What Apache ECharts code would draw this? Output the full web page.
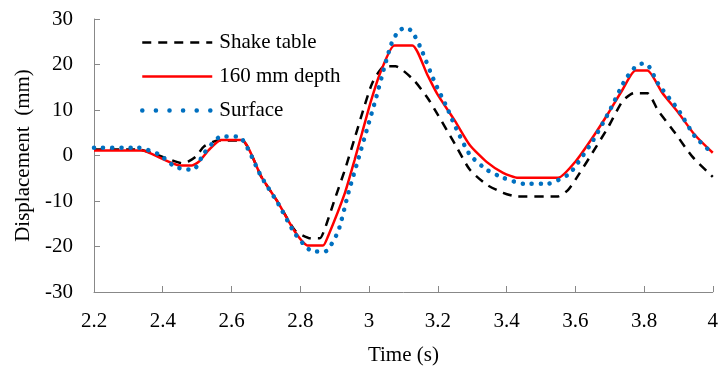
<!DOCTYPE html>
<html>
<head>
<meta charset="utf-8">
<script src="https://cdn.jsdelivr.net/npm/echarts@6/dist/echarts.min.js"></script>
<style>
html,body{margin:0;padding:0;background:#fff;}
#c{width:721px;height:372px;}
</style>
</head>
<body>
<div id="c"></div>
<script>
var seriesNames = ['Shake table', '160 mm depth', 'Surface'];

var tableTime = [2.20, 2.33, 2.40, 2.457, 2.475, 2.497, 2.52, 2.56, 2.63, 2.687, 2.736, 2.785, 2.83, 2.857, 2.872, 2.90, 2.93, 2.96, 2.98, 3.01, 3.045, 3.077, 3.13, 3.17, 3.20, 3.25, 3.293, 3.342, 3.39, 3.43, 3.55, 3.58, 3.61, 3.65, 3.697, 3.737, 3.77, 3.81, 3.84, 3.89, 3.94, 4.00];
var tableDisp = [1.3, 1.3, -0.3, -1.7, -1.3, -0.2, 2.0, 3.3, 3.3, -4.7, -10.4, -16.5, -18.2, -18.2, -16.0, -9.7, -3.1, 4.2, 9.2, 16.0, 19.6, 19.6, 16.6, 12.7, 9.0, 2.5, -3.1, -6.4, -8.2, -9.0, -9.0, -7.5, -4.2, 0.6, 6.4, 11.9, 13.7, 13.7, 10.0, 5.0, -0.2, -4.7];

var depthTime = [2.20, 2.34, 2.40, 2.45, 2.485, 2.506, 2.535, 2.57, 2.63, 2.687, 2.736, 2.785, 2.823, 2.866, 2.88, 2.93, 2.958, 2.98, 3.005, 3.034, 3.074, 3.126, 3.17, 3.198, 3.25, 3.293, 3.342, 3.39, 3.434, 3.55, 3.602, 3.65, 3.697, 3.737, 3.775, 3.81, 3.853, 3.90, 3.948, 4.00];
var depthDisp = [1.1, 1.1, -0.8, -2.2, -2.2, -1.3, 1.3, 3.4, 3.4, -4.7, -10.4, -16.8, -19.8, -19.8, -17.9, -8.2, -1.0, 5.0, 11.8, 18.4, 24.2, 24.2, 17.7, 13.6, 7.6, 2.3, -1.4, -3.8, -4.9, -4.9, -1.2, 3.9, 9.4, 14.4, 18.7, 18.7, 13.8, 9.4, 4.5, 0.6];

var surfaceTime = [2.20, 2.33, 2.39, 2.434, 2.47, 2.49, 2.52, 2.57, 2.62, 2.687, 2.736, 2.785, 2.837, 2.872, 2.91, 2.94, 2.97, 2.995, 3.02, 3.045, 3.065, 3.085, 3.106, 3.125, 3.15, 3.19, 3.227, 3.247, 3.293, 3.342, 3.39, 3.45, 3.52, 3.58, 3.602, 3.65, 3.697, 3.745, 3.775, 3.795, 3.815, 3.84, 3.90, 3.948, 4.00];
var surfaceDisp = [1.7, 1.7, 0.2, -2.4, -3.1, -3.1, 0.5, 4.2, 4.2, -4.7, -10.6, -17.2, -21.1, -21.1, -16.7, -8.2, -0.5, 6.0, 12.5, 19.5, 24.5, 27.3, 28.1, 27.3, 23.7, 16.3, 10.5, 7.0, 0.2, -3.1, -4.9, -6.2, -6.2, -4.2, -2.2, 3.1, 9.4, 16.6, 19.5, 20.2, 19.5, 15.9, 10.0, 4.2, 0.4];

var xTicks = [2.2, 2.4, 2.6, 2.8, 3, 3.2, 3.4, 3.6, 3.8, 4];
var yTicks = [-30, -20, -10, 0, 10, 20, 30];

function pairs(t, v) { return t.map(function (x, i) { return [x, v[i]]; }); }

var serif = '"Liberation Serif", "Times New Roman", serif';
var styles = [
  {color: '#000', width: 2.5, type: [9, 7]},
  {color: '#ff0000', width: 2.5, type: 'solid'},
  {color: '#0070C0', width: 4.5, type: [0.1, 9], cap: 'round'}
];
var legendStyles = [
  {color: '#000', width: 2.5, type: [9, 7]},
  {color: '#ff0000', width: 2.5, type: 'solid'},
  {color: '#0070C0', width: 4.5, type: [0.1, 13.5], cap: 'round'}
];
var chart = echarts.init(document.getElementById('c'), null, {renderer: 'canvas'});
chart.setOption({
  animation: false,
  backgroundColor: '#fff',
  grid: {left: 94, right: 3, top: 19, bottom: 80, containLabel: false},
  legend: {
    orient: 'vertical',
    left: 135,
    top: 27,
    itemWidth: 70,
    itemHeight: 14,
    itemGap: 13,
    itemStyle: {opacity: 0},
    textStyle: {fontFamily: serif, fontSize: 21, color: '#000', padding: [0, 0, 0, 2]},
    data: seriesNames.map(function (n, i) {
      return {name: n, lineStyle: legendStyles[i]};
    })
  },
  xAxis: {
    type: 'value',
    min: 2.2, max: 4, interval: 0.2,
    name: 'Time (s)',
    nameLocation: 'middle',
    nameGap: 53,
    nameTextStyle: {fontFamily: serif, fontSize: 21, color: '#000'},
    axisLine: {onZero: false, lineStyle: {color: '#888', width: 1}},
    axisTick: {inside: true, length: 6, lineStyle: {color: '#888'}},
    axisLabel: {fontFamily: serif, fontSize: 21, color: '#000', margin: 19,
      formatter: function (v) { return String(Math.round(v * 10) / 10); }},
    splitLine: {show: false}
  },
  yAxis: {
    type: 'value',
    min: -30, max: 30, interval: 10,
    name: 'Displacement  (mm)',
    nameLocation: 'middle',
    nameGap: 58,
    nameTextStyle: {fontFamily: serif, fontSize: 21, color: '#000'},
    axisLine: {show: true, onZero: false, lineStyle: {color: '#888', width: 1}},
    axisTick: {show: true, inside: true, length: 6, lineStyle: {color: '#888'}},
    axisLabel: {fontFamily: serif, fontSize: 21, color: '#000', margin: 21},
    splitLine: {show: false}
  },
  series: [
    {
      name: seriesNames[0], type: 'line', symbol: 'none', smooth: 0.2,
      data: pairs(tableTime, tableDisp),
      itemStyle: {color: '#000'},
      lineStyle: styles[0],
      z: 2
    },
    {
      name: seriesNames[1], type: 'line', symbol: 'none', smooth: 0.2,
      data: pairs(depthTime, depthDisp),
      itemStyle: {color: '#ff0000'},
      lineStyle: styles[1],
      z: 3
    },
    {
      name: seriesNames[2], type: 'line', symbol: 'none', smooth: 0.2,
      data: pairs(surfaceTime, surfaceDisp),
      itemStyle: {color: '#0070C0'},
      lineStyle: styles[2],
      z: 4
    }
  ]
});
</script>
</body>
</html>
